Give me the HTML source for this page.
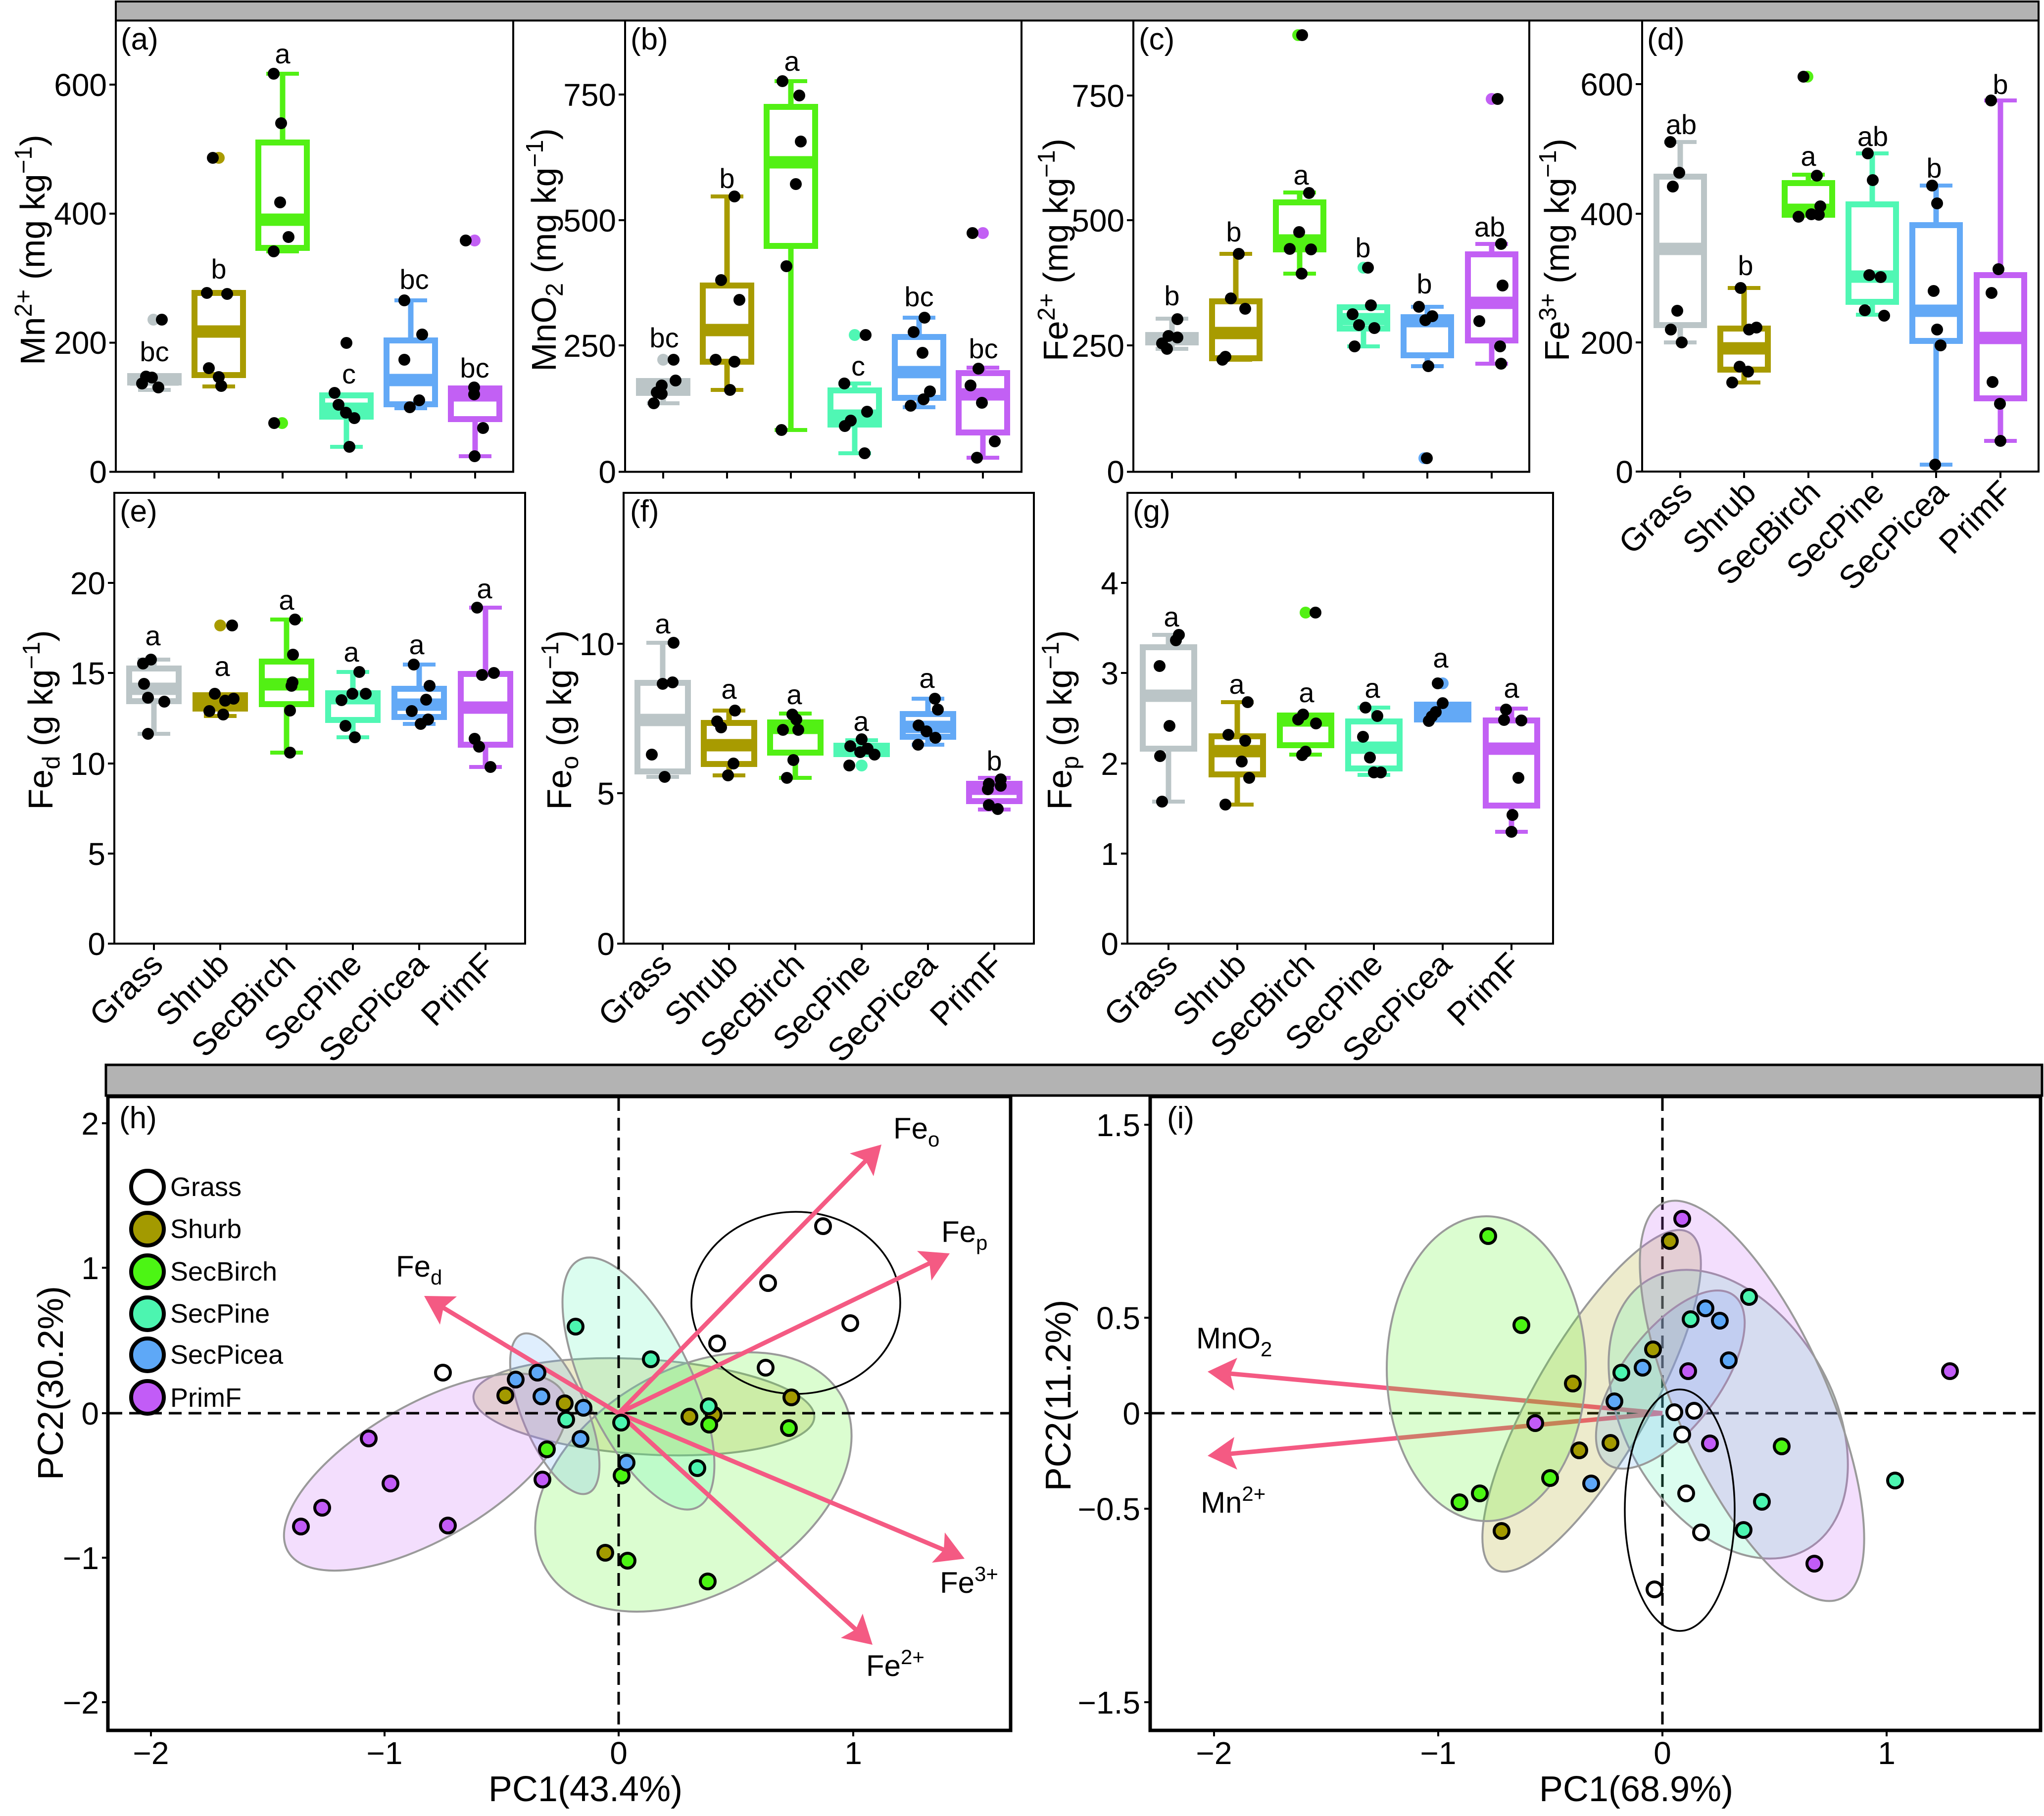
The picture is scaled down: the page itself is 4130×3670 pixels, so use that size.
<!DOCTYPE html>
<html><head><meta charset="utf-8"><style>
html,body{margin:0;padding:0;background:#fff}
svg{display:block}
text{font-family:"Liberation Sans",Arial,sans-serif;fill:#000}
.w{stroke-width:11}.c{stroke-width:8}.b{stroke-width:12;fill:#fff}.m{stroke-width:25}
.tk{font-size:64px}.tr{font-size:64px;text-anchor:end}.tm{font-size:64px;text-anchor:middle}
.lt{font-size:56px;text-anchor:middle}
.xl{font-size:66px;text-anchor:end}
.yt{font-size:70px;text-anchor:middle}
.tag{font-size:62px}
.ax{fill:none;stroke:#000;stroke-width:4}
.tick{stroke:#000;stroke-width:4}
.gr{stroke:#bbc5c7;fill:none}.sh{stroke:#a89b00;fill:none}.bi{stroke:#52f014;fill:none}.pi{stroke:#50f7b4;fill:none}.pc{stroke:#63a9f6;fill:none}.pf{stroke:#c260f4;fill:none}
.ell{stroke:#9a9a9a;stroke-width:4;fill-opacity:0.2}
.pt circle{stroke:#000;stroke-width:6}
.arr{stroke:#f45a83;stroke-width:9;fill:none}
.ah{fill:#f45a83}
.lab{font-size:60px}
</style></head><body>
<svg xmlns="http://www.w3.org/2000/svg" width="4130" height="3670" viewBox="0 0 4130 3670">
<rect width="4130" height="3670" fill="#fff"/>

<!-- ============ TOP STRIP ============ -->
<rect x="234" y="3" width="3885" height="38.5" fill="#b3b3b3" stroke="#000" stroke-width="4"/>

<!-- ============ PANEL A ============ -->
<g>
<rect class="ax" x="234" y="41.5" width="803" height="912"/>
<g class="tick">
<line x1="221" y1="953.5" x2="234" y2="953.5"/><line x1="221" y1="692.6" x2="234" y2="692.6"/><line x1="221" y1="431.8" x2="234" y2="431.8"/><line x1="221" y1="171" x2="234" y2="171"/>
<line x1="312" y1="953.5" x2="312" y2="967"/><line x1="442" y1="953.5" x2="442" y2="967"/><line x1="571" y1="953.5" x2="571" y2="967"/><line x1="700" y1="953.5" x2="700" y2="967"/><line x1="830" y1="953.5" x2="830" y2="967"/><line x1="960" y1="953.5" x2="960" y2="967"/>
</g>
<text class="tr" x="216" y="976">0</text><text class="tr" x="216" y="715">200</text><text class="tr" x="216" y="454">400</text><text class="tr" x="216" y="194">600</text>
<text class="yt" transform="translate(90,505) rotate(-90)">Mn<tspan font-size="49" dy="-26">2+</tspan><tspan dy="26"> (mg kg</tspan><tspan font-size="49" dy="-26">−1</tspan><tspan dy="26">)</tspan></text>
<text class="tag" x="244" y="100">(a)</text>
<g class="gr"><line class="w" x1="312" y1="773" x2="312" y2="788"/><line class="c" x1="279" y1="788" x2="345" y2="788"/><rect class="b" x="263" y="760" width="98" height="13"/><line class="m" x1="263" y1="767" x2="361" y2="767"/></g>
<g class="sh"><line class="w" x1="442" y1="758" x2="442" y2="781"/><line class="c" x1="409" y1="781" x2="475" y2="781"/><rect class="b" x="393" y="592" width="98" height="166"/><line class="m" x1="393" y1="670" x2="491" y2="670"/></g>
<g class="bi"><line class="w" x1="571" y1="149" x2="571" y2="508"/><line class="c" x1="538" y1="149" x2="604" y2="149"/><line class="c" x1="538" y1="508" x2="604" y2="508"/><rect class="b" x="522" y="288" width="98" height="213"/><line class="m" x1="522" y1="444" x2="620" y2="444"/></g>
<g class="pi"><line class="w" x1="700" y1="793" x2="700" y2="903"/><line class="c" x1="667" y1="903" x2="733" y2="903"/><rect class="b" x="651" y="799" width="98" height="43"/><line class="m" x1="651" y1="826" x2="749" y2="826"/></g>
<g class="pc"><line class="w" x1="830" y1="607" x2="830" y2="825"/><line class="c" x1="797" y1="607" x2="863" y2="607"/><line class="c" x1="797" y1="825" x2="863" y2="825"/><rect class="b" x="781" y="688" width="98" height="129"/><line class="m" x1="781" y1="768" x2="879" y2="768"/></g>
<g class="pf"><line class="w" x1="960" y1="779" x2="960" y2="922"/><line class="c" x1="927" y1="922" x2="993" y2="922"/><rect class="b" x="911" y="785" width="98" height="62"/><line class="m" x1="911" y1="799" x2="1009" y2="799"/></g>
<circle cx="310" cy="646" r="12" fill="#bbc5c7"/><circle cx="442" cy="319" r="12" fill="#a89b00"/><circle cx="570" cy="855" r="12" fill="#52f014"/><circle cx="959" cy="486" r="12" fill="#c260f4"/>
<g fill="#000">
<circle cx="287" cy="775" r="12"/><circle cx="295" cy="761" r="12"/><circle cx="307" cy="763" r="12"/><circle cx="320" cy="783" r="12"/><circle cx="327" cy="646" r="12"/>
<circle cx="418" cy="592" r="12"/><circle cx="459" cy="594" r="12"/><circle cx="422" cy="744" r="12"/><circle cx="442" cy="762" r="12"/><circle cx="447" cy="780" r="12"/><circle cx="430" cy="319" r="12"/>
<circle cx="553" cy="149" r="12"/><circle cx="568" cy="249" r="12"/><circle cx="566" cy="409" r="12"/><circle cx="583" cy="479" r="12"/><circle cx="553" cy="508" r="12"/><circle cx="554" cy="855" r="12"/>
<circle cx="700" cy="693" r="12"/><circle cx="676" cy="794" r="12"/><circle cx="684" cy="818" r="12"/><circle cx="699" cy="834" r="12"/><circle cx="716" cy="845" r="12"/><circle cx="706" cy="903" r="12"/>
<circle cx="817" cy="607" r="12"/><circle cx="853" cy="676" r="12"/><circle cx="817" cy="727" r="12"/><circle cx="847" cy="809" r="12"/><circle cx="828" cy="823" r="12"/>
<circle cx="958" cy="783" r="12"/><circle cx="958" cy="797" r="12"/><circle cx="976" cy="865" r="12"/><circle cx="959" cy="922" r="12"/><circle cx="941" cy="486" r="12"/>
</g>
<text class="lt" x="312" y="730">bc</text><text class="lt" x="442" y="563">b</text><text class="lt" x="571" y="128">a</text><text class="lt" x="705" y="775">c</text><text class="lt" x="837" y="584">bc</text><text class="lt" x="959" y="763">bc</text>
</g>

<!-- ============ PANEL B ============ -->
<g>
<rect class="ax" x="1263" y="41.5" width="801" height="912"/>
<g class="tick">
<line x1="1250" y1="953.5" x2="1263" y2="953.5"/><line x1="1250" y1="698" x2="1263" y2="698"/><line x1="1250" y1="445" x2="1263" y2="445"/><line x1="1250" y1="191" x2="1263" y2="191"/>
<line x1="1340" y1="953.5" x2="1340" y2="967"/><line x1="1469" y1="953.5" x2="1469" y2="967"/><line x1="1598" y1="953.5" x2="1598" y2="967"/><line x1="1727" y1="953.5" x2="1727" y2="967"/><line x1="1857" y1="953.5" x2="1857" y2="967"/><line x1="1986" y1="953.5" x2="1986" y2="967"/>
</g>
<text class="tr" x="1245" y="976">0</text><text class="tr" x="1245" y="721">250</text><text class="tr" x="1245" y="468">500</text><text class="tr" x="1245" y="214">750</text>
<text class="yt" transform="translate(1123,505) rotate(-90)">MnO<tspan font-size="49" dy="14">2</tspan><tspan dy="-14"> (mg kg</tspan><tspan font-size="49" dy="-26">−1</tspan><tspan dy="26">)</tspan></text>
<text class="tag" x="1274" y="100">(b)</text>
<g class="gr"><line class="w" x1="1340" y1="794" x2="1340" y2="815"/><line class="c" x1="1307" y1="815" x2="1373" y2="815"/><rect class="b" x="1291" y="770" width="98" height="24"/><line class="m" x1="1291" y1="782" x2="1389" y2="782"/></g>
<g class="sh"><line class="w" x1="1469" y1="397" x2="1469" y2="788"/><line class="c" x1="1436" y1="397" x2="1502" y2="397"/><line class="c" x1="1436" y1="788" x2="1502" y2="788"/><rect class="b" x="1420" y="577" width="98" height="154"/><line class="m" x1="1420" y1="667" x2="1518" y2="667"/></g>
<g class="bi"><line class="w" x1="1598" y1="164" x2="1598" y2="869"/><line class="c" x1="1565" y1="164" x2="1631" y2="164"/><line class="c" x1="1565" y1="869" x2="1631" y2="869"/><rect class="b" x="1549" y="216" width="98" height="281"/><line class="m" x1="1549" y1="328" x2="1647" y2="328"/></g>
<g class="pi"><line class="w" x1="1727" y1="775" x2="1727" y2="916"/><line class="c" x1="1694" y1="775" x2="1760" y2="775"/><line class="c" x1="1694" y1="916" x2="1760" y2="916"/><rect class="b" x="1678" y="789" width="98" height="69"/><line class="m" x1="1678" y1="840" x2="1776" y2="840"/></g>
<g class="pc"><line class="w" x1="1857" y1="642" x2="1857" y2="823"/><line class="c" x1="1824" y1="642" x2="1890" y2="642"/><line class="c" x1="1824" y1="823" x2="1890" y2="823"/><rect class="b" x="1808" y="681" width="98" height="123"/><line class="m" x1="1808" y1="752" x2="1906" y2="752"/></g>
<g class="pf"><line class="w" x1="1986" y1="743" x2="1986" y2="925"/><line class="c" x1="1953" y1="743" x2="2019" y2="743"/><line class="c" x1="1953" y1="925" x2="2019" y2="925"/><rect class="b" x="1937" y="754" width="98" height="120"/><line class="m" x1="1937" y1="797" x2="2035" y2="797"/></g>
<circle cx="1340" cy="727" r="12" fill="#bbc5c7"/><circle cx="1727" cy="677" r="12" fill="#50f7b4"/><circle cx="1986" cy="471" r="12" fill="#c260f4"/>
<g fill="#000">
<circle cx="1365" cy="769" r="12"/><circle cx="1337" cy="779" r="12"/><circle cx="1327" cy="793" r="12"/><circle cx="1337" cy="796" r="12"/><circle cx="1321" cy="815" r="12"/><circle cx="1361" cy="727" r="12"/>
<circle cx="1484" cy="397" r="12"/><circle cx="1457" cy="566" r="12"/><circle cx="1494" cy="606" r="12"/><circle cx="1446" cy="727" r="12"/><circle cx="1484" cy="731" r="12"/><circle cx="1475" cy="788" r="12"/>
<circle cx="1581" cy="164" r="12"/><circle cx="1615" cy="193" r="12"/><circle cx="1618" cy="286" r="12"/><circle cx="1608" cy="372" r="12"/><circle cx="1589" cy="538" r="12"/><circle cx="1579" cy="869" r="12"/>
<circle cx="1706" cy="775" r="12"/><circle cx="1752" cy="832" r="12"/><circle cx="1719" cy="850" r="12"/><circle cx="1707" cy="861" r="12"/><circle cx="1747" cy="916" r="12"/><circle cx="1749" cy="677" r="12"/>
<circle cx="1868" cy="642" r="12"/><circle cx="1846" cy="671" r="12"/><circle cx="1864" cy="713" r="12"/><circle cx="1879" cy="791" r="12"/><circle cx="1866" cy="807" r="12"/><circle cx="1840" cy="820" r="12"/>
<circle cx="1977" cy="745" r="12"/><circle cx="1961" cy="779" r="12"/><circle cx="1984" cy="814" r="12"/><circle cx="2010" cy="892" r="12"/><circle cx="1974" cy="925" r="12"/><circle cx="1965" cy="471" r="12"/>
</g>
<text class="lt" x="1342" y="702">bc</text><text class="lt" x="1469" y="380">b</text><text class="lt" x="1600" y="143">a</text><text class="lt" x="1734" y="759">c</text><text class="lt" x="1857" y="619">bc</text><text class="lt" x="1987" y="724">bc</text>
</g>

<!-- ============ PANEL C ============ -->
<g>
<rect class="ax" x="2290" y="41.5" width="800" height="912"/>
<g class="tick">
<line x1="2277" y1="953.5" x2="2290" y2="953.5"/><line x1="2277" y1="698" x2="2290" y2="698"/><line x1="2277" y1="445" x2="2290" y2="445"/><line x1="2277" y1="193" x2="2290" y2="193"/>
<line x1="2368" y1="953.5" x2="2368" y2="967"/><line x1="2497" y1="953.5" x2="2497" y2="967"/><line x1="2626" y1="953.5" x2="2626" y2="967"/><line x1="2755" y1="953.5" x2="2755" y2="967"/><line x1="2884" y1="953.5" x2="2884" y2="967"/><line x1="3014" y1="953.5" x2="3014" y2="967"/>
</g>
<text class="tr" x="2272" y="976">0</text><text class="tr" x="2272" y="721">250</text><text class="tr" x="2272" y="468">500</text><text class="tr" x="2272" y="216">750</text>
<text class="yt" transform="translate(2157,505) rotate(-90)">Fe<tspan font-size="49" dy="-26">2+</tspan><tspan dy="26"> (mg kg</tspan><tspan font-size="49" dy="-26">−1</tspan><tspan dy="26">)</tspan></text>
<text class="tag" x="2301" y="100">(c)</text>
<g class="gr"><line class="w" x1="2368" y1="644" x2="2368" y2="705"/><line class="c" x1="2335" y1="644" x2="2401" y2="644"/><line class="c" x1="2335" y1="705" x2="2401" y2="705"/><rect class="b" x="2320" y="677" width="96" height="15"/><line class="m" x1="2320" y1="684" x2="2416" y2="684"/></g>
<g class="sh"><line class="w" x1="2497" y1="513" x2="2497" y2="727"/><line class="c" x1="2464" y1="513" x2="2530" y2="513"/><line class="c" x1="2464" y1="727" x2="2530" y2="727"/><rect class="b" x="2449" y="609" width="96" height="115"/><line class="m" x1="2449" y1="673" x2="2545" y2="673"/></g>
<g class="bi"><line class="w" x1="2626" y1="389" x2="2626" y2="553"/><line class="c" x1="2593" y1="389" x2="2659" y2="389"/><line class="c" x1="2593" y1="553" x2="2659" y2="553"/><rect class="b" x="2578" y="409" width="96" height="95"/><line class="m" x1="2578" y1="486" x2="2674" y2="486"/></g>
<g class="pi"><line class="w" x1="2755" y1="615" x2="2755" y2="700"/><line class="c" x1="2722" y1="700" x2="2788" y2="700"/><rect class="b" x="2707" y="621" width="96" height="43"/><line class="m" x1="2707" y1="645" x2="2803" y2="645"/></g>
<g class="pc"><line class="w" x1="2884" y1="620" x2="2884" y2="740"/><line class="c" x1="2851" y1="620" x2="2917" y2="620"/><line class="c" x1="2851" y1="740" x2="2917" y2="740"/><rect class="b" x="2836" y="641" width="96" height="77"/><line class="m" x1="2836" y1="649" x2="2932" y2="649"/></g>
<g class="pf"><line class="w" x1="3014" y1="493" x2="3014" y2="735"/><line class="c" x1="2981" y1="493" x2="3047" y2="493"/><line class="c" x1="2981" y1="735" x2="3047" y2="735"/><rect class="b" x="2966" y="514" width="96" height="174"/><line class="m" x1="2966" y1="612" x2="3062" y2="612"/></g>
<circle cx="2623" cy="71" r="12" fill="#52f014"/><circle cx="2755" cy="541" r="12" fill="#50f7b4"/><circle cx="3014" cy="200" r="12" fill="#c260f4"/><circle cx="2878" cy="926" r="12" fill="#63a9f6"/>
<g fill="#000">
<circle cx="2379" cy="645" r="12"/><circle cx="2361" cy="679" r="12"/><circle cx="2379" cy="682" r="12"/><circle cx="2348" cy="694" r="12"/><circle cx="2358" cy="705" r="12"/>
<circle cx="2503" cy="513" r="12"/><circle cx="2487" cy="603" r="12"/><circle cx="2516" cy="624" r="12"/><circle cx="2476" cy="721" r="12"/><circle cx="2470" cy="727" r="12"/>
<circle cx="2645" cy="390" r="12"/><circle cx="2625" cy="469" r="12"/><circle cx="2606" cy="503" r="12"/><circle cx="2649" cy="504" r="12"/><circle cx="2630" cy="553" r="12"/><circle cx="2631" cy="71" r="12"/>
<circle cx="2770" cy="617" r="12"/><circle cx="2733" cy="635" r="12"/><circle cx="2746" cy="657" r="12"/><circle cx="2777" cy="663" r="12"/><circle cx="2737" cy="700" r="12"/><circle cx="2764" cy="541" r="12"/>
<circle cx="2867" cy="620" r="12"/><circle cx="2894" cy="639" r="12"/><circle cx="2880" cy="647" r="12"/><circle cx="2886" cy="740" r="12"/><circle cx="2883" cy="926" r="12"/>
<circle cx="3033" cy="493" r="12"/><circle cx="3036" cy="577" r="12"/><circle cx="2989" cy="649" r="12"/><circle cx="3031" cy="700" r="12"/><circle cx="3033" cy="735" r="12"/><circle cx="3026" cy="200" r="12"/>
</g>
<text class="lt" x="2368" y="617">b</text><text class="lt" x="2493" y="488">b</text><text class="lt" x="2629" y="373">a</text><text class="lt" x="2754" y="520">b</text><text class="lt" x="2878" y="593">b</text><text class="lt" x="3010" y="478">ab</text>
</g>

<!-- ============ PANEL D ============ -->
<g>
<rect class="ax" x="3318" y="41.5" width="801" height="911.5"/>
<g class="tick">
<line x1="3305" y1="953" x2="3318" y2="953"/><line x1="3305" y1="692" x2="3318" y2="692"/><line x1="3305" y1="432" x2="3318" y2="432"/><line x1="3305" y1="170" x2="3318" y2="170"/>
<line x1="3395" y1="953" x2="3395" y2="966"/><line x1="3524" y1="953" x2="3524" y2="966"/><line x1="3654" y1="953" x2="3654" y2="966"/><line x1="3783" y1="953" x2="3783" y2="966"/><line x1="3912" y1="953" x2="3912" y2="966"/><line x1="4042" y1="953" x2="4042" y2="966"/>
</g>
<text class="tr" x="3300" y="976">0</text><text class="tr" x="3300" y="715">200</text><text class="tr" x="3300" y="455">400</text><text class="tr" x="3300" y="193">600</text>
<text class="yt" transform="translate(3170,505) rotate(-90)">Fe<tspan font-size="49" dy="-26">3+</tspan><tspan dy="26"> (mg kg</tspan><tspan font-size="49" dy="-26">−1</tspan><tspan dy="26">)</tspan></text>
<text class="tag" x="3328" y="100">(d)</text>
<g class="gr"><line class="w" x1="3395" y1="287" x2="3395" y2="692"/><line class="c" x1="3362" y1="287" x2="3428" y2="287"/><line class="c" x1="3362" y1="692" x2="3428" y2="692"/><rect class="b" x="3347" y="357" width="96" height="300"/><line class="m" x1="3347" y1="503" x2="3443" y2="503"/></g>
<g class="sh"><line class="w" x1="3524" y1="582" x2="3524" y2="773"/><line class="c" x1="3491" y1="582" x2="3557" y2="582"/><line class="c" x1="3491" y1="773" x2="3557" y2="773"/><rect class="b" x="3476" y="664" width="96" height="83"/><line class="m" x1="3476" y1="704" x2="3572" y2="704"/></g>
<g class="bi"><line class="w" x1="3654" y1="353" x2="3654" y2="438"/><line class="c" x1="3621" y1="353" x2="3687" y2="353"/><rect class="b" x="3606" y="370" width="96" height="64"/><line class="m" x1="3606" y1="424" x2="3702" y2="424"/></g>
<g class="pi"><line class="w" x1="3783" y1="310" x2="3783" y2="636"/><line class="c" x1="3750" y1="310" x2="3816" y2="310"/><line class="c" x1="3750" y1="636" x2="3816" y2="636"/><rect class="b" x="3735" y="413" width="96" height="197"/><line class="m" x1="3735" y1="559" x2="3831" y2="559"/></g>
<g class="pc"><line class="w" x1="3912" y1="375" x2="3912" y2="939"/><line class="c" x1="3879" y1="375" x2="3945" y2="375"/><line class="c" x1="3879" y1="939" x2="3945" y2="939"/><rect class="b" x="3864" y="455" width="96" height="234"/><line class="m" x1="3864" y1="628" x2="3960" y2="628"/></g>
<g class="pf"><line class="w" x1="4042" y1="203" x2="4042" y2="891"/><line class="c" x1="4009" y1="203" x2="4075" y2="203"/><line class="c" x1="4009" y1="891" x2="4075" y2="891"/><rect class="b" x="3994" y="556" width="96" height="249"/><line class="m" x1="3994" y1="683" x2="4090" y2="683"/></g>
<circle cx="3652" cy="155" r="12" fill="#52f014"/>
<g fill="#000">
<circle cx="3375" cy="287" r="12"/><circle cx="3393" cy="349" r="12"/><circle cx="3380" cy="377" r="12"/><circle cx="3389" cy="628" r="12"/><circle cx="3376" cy="666" r="12"/><circle cx="3398" cy="692" r="12"/>
<circle cx="3517" cy="582" r="12"/><circle cx="3534" cy="666" r="12"/><circle cx="3549" cy="662" r="12"/><circle cx="3515" cy="741" r="12"/><circle cx="3532" cy="751" r="12"/><circle cx="3500" cy="773" r="12"/>
<circle cx="3671" cy="355" r="12"/><circle cx="3678" cy="417" r="12"/><circle cx="3660" cy="433" r="12"/><circle cx="3675" cy="434" r="12"/><circle cx="3634" cy="438" r="12"/><circle cx="3644" cy="155" r="12"/>
<circle cx="3774" cy="310" r="12"/><circle cx="3784" cy="364" r="12"/><circle cx="3777" cy="556" r="12"/><circle cx="3800" cy="560" r="12"/><circle cx="3768" cy="627" r="12"/><circle cx="3807" cy="638" r="12"/>
<circle cx="3904" cy="375" r="12"/><circle cx="3914" cy="411" r="12"/><circle cx="3907" cy="588" r="12"/><circle cx="3914" cy="666" r="12"/><circle cx="3921" cy="698" r="12"/><circle cx="3910" cy="939" r="12"/>
<circle cx="4023" cy="203" r="12"/><circle cx="4038" cy="544" r="12"/><circle cx="4024" cy="592" r="12"/><circle cx="4026" cy="772" r="12"/><circle cx="4041" cy="816" r="12"/><circle cx="4042" cy="891" r="12"/>
</g>
<text class="lt" x="3397" y="271">ab</text><text class="lt" x="3527" y="556">b</text><text class="lt" x="3654" y="335">a</text><text class="lt" x="3784" y="295">ab</text><text class="lt" x="3908" y="359">b</text><text class="lt" x="4042" y="190">b</text>
<text class="xl" transform="translate(3423,999) rotate(-45)">Grass</text>
<text class="xl" transform="translate(3552,999) rotate(-45)">Shrub</text>
<text class="xl" transform="translate(3682,999) rotate(-45)">SecBirch</text>
<text class="xl" transform="translate(3811,999) rotate(-45)">SecPine</text>
<text class="xl" transform="translate(3940,999) rotate(-45)">SecPicea</text>
<text class="xl" transform="translate(4070,999) rotate(-45)">PrimF</text>
</g>

<!-- ============ PANEL E ============ -->
<g>
<rect class="ax" x="231" y="996" width="830" height="911"/>
<g class="tick">
<line x1="218" y1="1907" x2="231" y2="1907"/><line x1="218" y1="1725" x2="231" y2="1725"/><line x1="218" y1="1543" x2="231" y2="1543"/><line x1="218" y1="1360" x2="231" y2="1360"/><line x1="218" y1="1178" x2="231" y2="1178"/>
<line x1="311" y1="1907" x2="311" y2="1920"/><line x1="445" y1="1907" x2="445" y2="1920"/><line x1="579" y1="1907" x2="579" y2="1920"/><line x1="713" y1="1907" x2="713" y2="1920"/><line x1="847" y1="1907" x2="847" y2="1920"/><line x1="981" y1="1907" x2="981" y2="1920"/>
</g>
<text class="tr" x="213" y="1930">0</text><text class="tr" x="213" y="1748">5</text><text class="tr" x="213" y="1566">10</text><text class="tr" x="213" y="1383">15</text><text class="tr" x="213" y="1201">20</text>
<text class="yt" transform="translate(106,1455) rotate(-90)">Fe<tspan font-size="49" dy="14">d</tspan><tspan dy="-14"> (g kg</tspan><tspan font-size="49" dy="-26">−1</tspan><tspan dy="26">)</tspan></text>
<text class="tag" x="242" y="1054">(e)</text>
<g class="gr"><line class="w" x1="311" y1="1333" x2="311" y2="1483"/><line class="c" x1="278" y1="1333" x2="344" y2="1333"/><line class="c" x1="278" y1="1483" x2="344" y2="1483"/><rect class="b" x="261" y="1351" width="100" height="66"/><line class="m" x1="261" y1="1392" x2="361" y2="1392"/></g>
<g class="sh"><line class="w" x1="445" y1="1432" x2="445" y2="1447"/><line class="c" x1="412" y1="1447" x2="478" y2="1447"/><rect class="b" x="395" y="1405" width="100" height="27"/><line class="m" x1="395" y1="1418" x2="495" y2="1418"/></g>
<g class="bi"><line class="w" x1="579" y1="1252" x2="579" y2="1521"/><line class="c" x1="546" y1="1252" x2="612" y2="1252"/><line class="c" x1="546" y1="1521" x2="612" y2="1521"/><rect class="b" x="529" y="1337" width="100" height="86"/><line class="m" x1="529" y1="1383" x2="629" y2="1383"/></g>
<g class="pi"><line class="w" x1="713" y1="1358" x2="713" y2="1490"/><line class="c" x1="680" y1="1358" x2="746" y2="1358"/><line class="c" x1="680" y1="1490" x2="746" y2="1490"/><rect class="b" x="663" y="1401" width="100" height="54"/><line class="m" x1="663" y1="1411" x2="763" y2="1411"/></g>
<g class="pc"><line class="w" x1="847" y1="1343" x2="847" y2="1463"/><line class="c" x1="814" y1="1343" x2="880" y2="1343"/><line class="c" x1="814" y1="1463" x2="880" y2="1463"/><rect class="b" x="797" y="1392" width="100" height="57"/><line class="m" x1="797" y1="1424" x2="897" y2="1424"/></g>
<g class="pf"><line class="w" x1="981" y1="1228" x2="981" y2="1550"/><line class="c" x1="948" y1="1228" x2="1014" y2="1228"/><line class="c" x1="948" y1="1550" x2="1014" y2="1550"/><rect class="b" x="931" y="1362" width="100" height="143"/><line class="m" x1="931" y1="1430" x2="1031" y2="1430"/></g>
<circle cx="445" cy="1264" r="12" fill="#a89b00"/>
<g fill="#000">
<circle cx="289" cy="1341" r="12"/><circle cx="305" cy="1333" r="12"/><circle cx="291" cy="1382" r="12"/><circle cx="299" cy="1410" r="12"/><circle cx="332" cy="1418" r="12"/><circle cx="299" cy="1483" r="12"/>
<circle cx="434" cy="1402" r="12"/><circle cx="455" cy="1416" r="12"/><circle cx="472" cy="1412" r="12"/><circle cx="423" cy="1437" r="12"/><circle cx="451" cy="1444" r="12"/><circle cx="469" cy="1264" r="12"/>
<circle cx="596" cy="1252" r="12"/><circle cx="592" cy="1323" r="12"/><circle cx="591" cy="1379" r="12"/><circle cx="589" cy="1386" r="12"/><circle cx="586" cy="1436" r="12"/><circle cx="586" cy="1521" r="12"/>
<circle cx="726" cy="1358" r="12"/><circle cx="690" cy="1415" r="12"/><circle cx="712" cy="1402" r="12"/><circle cx="739" cy="1402" r="12"/><circle cx="698" cy="1467" r="12"/><circle cx="717" cy="1490" r="12"/>
<circle cx="836" cy="1343" r="12"/><circle cx="868" cy="1386" r="12"/><circle cx="861" cy="1414" r="12"/><circle cx="832" cy="1437" r="12"/><circle cx="865" cy="1454" r="12"/><circle cx="850" cy="1463" r="12"/>
<circle cx="964" cy="1228" r="12"/><circle cx="974" cy="1364" r="12"/><circle cx="998" cy="1360" r="12"/><circle cx="959" cy="1493" r="12"/><circle cx="968" cy="1509" r="12"/><circle cx="991" cy="1550" r="12"/>
</g>
<text class="lt" x="309" y="1304">a</text><text class="lt" x="449" y="1366">a</text><text class="lt" x="579" y="1232">a</text><text class="lt" x="710" y="1337">a</text><text class="lt" x="842" y="1322">a</text><text class="lt" x="979" y="1209">a</text>
<text class="xl" transform="translate(333,1953) rotate(-45)">Grass</text>
<text class="xl" transform="translate(467,1953) rotate(-45)">Shrub</text>
<text class="xl" transform="translate(601,1953) rotate(-45)">SecBirch</text>
<text class="xl" transform="translate(735,1953) rotate(-45)">SecPine</text>
<text class="xl" transform="translate(869,1953) rotate(-45)">SecPicea</text>
<text class="xl" transform="translate(1003,1953) rotate(-45)">PrimF</text>
</g>

<!-- ============ PANEL F ============ -->
<g>
<rect class="ax" x="1260" y="996" width="829" height="911"/>
<g class="tick">
<line x1="1247" y1="1907" x2="1260" y2="1907"/><line x1="1247" y1="1603" x2="1260" y2="1603"/><line x1="1247" y1="1301" x2="1260" y2="1301"/>
<line x1="1339" y1="1907" x2="1339" y2="1920"/><line x1="1473" y1="1907" x2="1473" y2="1920"/><line x1="1607" y1="1907" x2="1607" y2="1920"/><line x1="1741" y1="1907" x2="1741" y2="1920"/><line x1="1875" y1="1907" x2="1875" y2="1920"/><line x1="2009" y1="1907" x2="2009" y2="1920"/>
</g>
<text class="tr" x="1242" y="1930">0</text><text class="tr" x="1242" y="1626">5</text><text class="tr" x="1242" y="1324">10</text>
<text class="yt" transform="translate(1154,1455) rotate(-90)">Fe<tspan font-size="49" dy="14">o</tspan><tspan dy="-14"> (g kg</tspan><tspan font-size="49" dy="-26">−1</tspan><tspan dy="26">)</tspan></text>
<text class="tag" x="1273" y="1054">(f)</text>
<g class="gr"><line class="w" x1="1339" y1="1299" x2="1339" y2="1570"/><line class="c" x1="1306" y1="1299" x2="1372" y2="1299"/><line class="c" x1="1306" y1="1570" x2="1372" y2="1570"/><rect class="b" x="1288" y="1380" width="102" height="179"/><line class="m" x1="1288" y1="1455" x2="1390" y2="1455"/></g>
<g class="sh"><line class="w" x1="1473" y1="1436" x2="1473" y2="1567"/><line class="c" x1="1440" y1="1436" x2="1506" y2="1436"/><line class="c" x1="1440" y1="1567" x2="1506" y2="1567"/><rect class="b" x="1422" y="1461" width="102" height="83"/><line class="m" x1="1422" y1="1506" x2="1524" y2="1506"/></g>
<g class="bi"><line class="w" x1="1607" y1="1442" x2="1607" y2="1572"/><line class="c" x1="1574" y1="1442" x2="1640" y2="1442"/><line class="c" x1="1574" y1="1572" x2="1640" y2="1572"/><rect class="b" x="1556" y="1460" width="102" height="61"/><line class="m" x1="1556" y1="1471" x2="1658" y2="1471"/></g>
<g class="pi"><line class="w" x1="1741" y1="1496" x2="1741" y2="1524"/><line class="c" x1="1708" y1="1496" x2="1774" y2="1496"/><rect class="b" x="1690" y="1507" width="102" height="17"/><line class="m" x1="1690" y1="1515" x2="1792" y2="1515"/></g>
<g class="pc"><line class="w" x1="1875" y1="1412" x2="1875" y2="1505"/><line class="c" x1="1842" y1="1412" x2="1908" y2="1412"/><line class="c" x1="1842" y1="1505" x2="1908" y2="1505"/><rect class="b" x="1824" y="1443" width="102" height="46"/><line class="m" x1="1824" y1="1469" x2="1926" y2="1469"/></g>
<g class="pf"><line class="w" x1="2009" y1="1572" x2="2009" y2="1636"/><line class="c" x1="1976" y1="1572" x2="2042" y2="1572"/><line class="c" x1="1976" y1="1636" x2="2042" y2="1636"/><rect class="b" x="1958" y="1584" width="102" height="35"/><line class="m" x1="1958" y1="1594" x2="2060" y2="1594"/></g>
<circle cx="1741" cy="1547" r="12" fill="#50f7b4"/>
<g fill="#000">
<circle cx="1361" cy="1299" r="12"/><circle cx="1339" cy="1382" r="12"/><circle cx="1359" cy="1379" r="12"/><circle cx="1317" cy="1525" r="12"/><circle cx="1343" cy="1570" r="12"/>
<circle cx="1485" cy="1436" r="12"/><circle cx="1449" cy="1458" r="12"/><circle cx="1457" cy="1470" r="12"/><circle cx="1482" cy="1543" r="12"/><circle cx="1471" cy="1567" r="12"/>
<circle cx="1601" cy="1444" r="12"/><circle cx="1609" cy="1454" r="12"/><circle cx="1582" cy="1475" r="12"/><circle cx="1613" cy="1475" r="12"/><circle cx="1603" cy="1536" r="12"/><circle cx="1590" cy="1572" r="12"/>
<circle cx="1718" cy="1508" r="12"/><circle cx="1741" cy="1494" r="12"/><circle cx="1738" cy="1520" r="12"/><circle cx="1753" cy="1513" r="12"/><circle cx="1767" cy="1525" r="12"/><circle cx="1716" cy="1547" r="12"/>
<circle cx="1889" cy="1412" r="12"/><circle cx="1895" cy="1434" r="12"/><circle cx="1856" cy="1466" r="12"/><circle cx="1872" cy="1478" r="12"/><circle cx="1890" cy="1491" r="12"/><circle cx="1855" cy="1505" r="12"/>
<circle cx="1998" cy="1584" r="12"/><circle cx="2022" cy="1575" r="12"/><circle cx="2022" cy="1588" r="12"/><circle cx="1996" cy="1595" r="12"/><circle cx="1998" cy="1627" r="12"/><circle cx="2016" cy="1635" r="12"/>
</g>
<text class="lt" x="1339" y="1280">a</text><text class="lt" x="1473" y="1412">a</text><text class="lt" x="1605" y="1423">a</text><text class="lt" x="1740" y="1477">a</text><text class="lt" x="1873" y="1390">a</text><text class="lt" x="2009" y="1557">b</text>
<text class="xl" transform="translate(1361,1953) rotate(-45)">Grass</text>
<text class="xl" transform="translate(1495,1953) rotate(-45)">Shrub</text>
<text class="xl" transform="translate(1629,1953) rotate(-45)">SecBirch</text>
<text class="xl" transform="translate(1763,1953) rotate(-45)">SecPine</text>
<text class="xl" transform="translate(1897,1953) rotate(-45)">SecPicea</text>
<text class="xl" transform="translate(2031,1953) rotate(-45)">PrimF</text>
</g>

<!-- ============ PANEL G ============ -->
<g>
<rect class="ax" x="2278" y="996" width="860" height="911"/>
<g class="tick">
<line x1="2265" y1="1907" x2="2278" y2="1907"/><line x1="2265" y1="1725" x2="2278" y2="1725"/><line x1="2265" y1="1543" x2="2278" y2="1543"/><line x1="2265" y1="1360" x2="2278" y2="1360"/><line x1="2265" y1="1178" x2="2278" y2="1178"/>
<line x1="2361" y1="1907" x2="2361" y2="1920"/><line x1="2500" y1="1907" x2="2500" y2="1920"/><line x1="2638" y1="1907" x2="2638" y2="1920"/><line x1="2776" y1="1907" x2="2776" y2="1920"/><line x1="2915" y1="1907" x2="2915" y2="1920"/><line x1="3054" y1="1907" x2="3054" y2="1920"/>
</g>
<text class="tr" x="2260" y="1930">0</text><text class="tr" x="2260" y="1748">1</text><text class="tr" x="2260" y="1566">2</text><text class="tr" x="2260" y="1383">3</text><text class="tr" x="2260" y="1201">4</text>
<text class="yt" transform="translate(2165,1455) rotate(-90)">Fe<tspan font-size="49" dy="14">p</tspan><tspan dy="-14"> (g kg</tspan><tspan font-size="49" dy="-26">−1</tspan><tspan dy="26">)</tspan></text>
<text class="tag" x="2289" y="1054">(g)</text>
<g class="gr"><line class="w" x1="2361" y1="1283" x2="2361" y2="1620"/><line class="c" x1="2328" y1="1283" x2="2394" y2="1283"/><line class="c" x1="2328" y1="1620" x2="2394" y2="1620"/><rect class="b" x="2309" y="1308" width="104" height="205"/><line class="m" x1="2309" y1="1406" x2="2413" y2="1406"/></g>
<g class="sh"><line class="w" x1="2500" y1="1419" x2="2500" y2="1626"/><line class="c" x1="2467" y1="1419" x2="2533" y2="1419"/><line class="c" x1="2467" y1="1626" x2="2533" y2="1626"/><rect class="b" x="2448" y="1488" width="104" height="77"/><line class="m" x1="2448" y1="1518" x2="2552" y2="1518"/></g>
<g class="bi"><line class="w" x1="2638" y1="1440" x2="2638" y2="1525"/><line class="c" x1="2605" y1="1525" x2="2671" y2="1525"/><rect class="b" x="2586" y="1446" width="104" height="60"/><line class="m" x1="2586" y1="1456" x2="2690" y2="1456"/></g>
<g class="pi"><line class="w" x1="2776" y1="1430" x2="2776" y2="1566"/><line class="c" x1="2743" y1="1430" x2="2809" y2="1430"/><line class="c" x1="2743" y1="1566" x2="2809" y2="1566"/><rect class="b" x="2724" y="1458" width="104" height="95"/><line class="m" x1="2724" y1="1511" x2="2828" y2="1511"/></g>
<g class="pc"><rect class="b" x="2863" y="1424" width="104" height="30"/><line class="m" x1="2863" y1="1439" x2="2967" y2="1439"/></g>
<g class="pf"><line class="w" x1="3054" y1="1432" x2="3054" y2="1681"/><line class="c" x1="3021" y1="1432" x2="3087" y2="1432"/><line class="c" x1="3021" y1="1681" x2="3087" y2="1681"/><rect class="b" x="3002" y="1456" width="104" height="172"/><line class="m" x1="3002" y1="1513" x2="3106" y2="1513"/></g>
<circle cx="2638" cy="1238" r="12" fill="#52f014"/><circle cx="2915" cy="1381" r="12" fill="#63a9f6"/>
<g fill="#000">
<circle cx="2382" cy="1283" r="12"/><circle cx="2376" cy="1294" r="12"/><circle cx="2343" cy="1346" r="12"/><circle cx="2363" cy="1467" r="12"/><circle cx="2344" cy="1528" r="12"/><circle cx="2348" cy="1620" r="12"/>
<circle cx="2521" cy="1419" r="12"/><circle cx="2482" cy="1485" r="12"/><circle cx="2516" cy="1497" r="12"/><circle cx="2509" cy="1539" r="12"/><circle cx="2524" cy="1572" r="12"/><circle cx="2476" cy="1626" r="12"/>
<circle cx="2633" cy="1444" r="12"/><circle cx="2623" cy="1454" r="12"/><circle cx="2659" cy="1462" r="12"/><circle cx="2638" cy="1519" r="12"/><circle cx="2631" cy="1526" r="12"/><circle cx="2658" cy="1238" r="12"/>
<circle cx="2759" cy="1430" r="12"/><circle cx="2783" cy="1447" r="12"/><circle cx="2754" cy="1489" r="12"/><circle cx="2768" cy="1531" r="12"/><circle cx="2776" cy="1561" r="12"/><circle cx="2790" cy="1561" r="12"/>
<circle cx="2915" cy="1421" r="12"/><circle cx="2901" cy="1439" r="12"/><circle cx="2893" cy="1448" r="12"/><circle cx="2887" cy="1457" r="12"/><circle cx="2905" cy="1381" r="12"/>
<circle cx="3043" cy="1434" r="12"/><circle cx="3039" cy="1455" r="12"/><circle cx="3074" cy="1456" r="12"/><circle cx="3068" cy="1572" r="12"/><circle cx="3056" cy="1647" r="12"/><circle cx="3054" cy="1681" r="12"/>
</g>
<text class="lt" x="2367" y="1266">a</text><text class="lt" x="2499" y="1402">a</text><text class="lt" x="2640" y="1419">a</text><text class="lt" x="2773" y="1410">a</text><text class="lt" x="2911" y="1349">a</text><text class="lt" x="3054" y="1410">a</text>
<text class="xl" transform="translate(2383,1953) rotate(-45)">Grass</text>
<text class="xl" transform="translate(2522,1953) rotate(-45)">Shrub</text>
<text class="xl" transform="translate(2660,1953) rotate(-45)">SecBirch</text>
<text class="xl" transform="translate(2798,1953) rotate(-45)">SecPine</text>
<text class="xl" transform="translate(2937,1953) rotate(-45)">SecPicea</text>
<text class="xl" transform="translate(3076,1953) rotate(-45)">PrimF</text>
</g>

<!-- ============ BOTTOM STRIP ============ -->
<rect x="214" y="2152" width="3912" height="62" fill="#b3b3b3" stroke="#000" stroke-width="5"/>

<!-- ============ PANEL H ============ -->
<g>
<rect x="218" y="2216" width="1824" height="1281" fill="#fff" stroke="none"/>
<ellipse class="ell" cx="1301" cy="2843" rx="345" ry="96" transform="rotate(3.6 1301 2843)" fill="#a39a00"/>
<ellipse class="ell" cx="1401" cy="2995" rx="346" ry="226" transform="rotate(-30.4 1401 2995)" fill="#4cf514"/>
<ellipse class="ell" cx="1290" cy="2796" rx="108" ry="277" transform="rotate(-25.3 1290 2796)" fill="#4cf5b0"/>
<ellipse class="ell" cx="1121" cy="2857" rx="65" ry="174" transform="rotate(-22.8 1121 2857)" fill="#5ea8f7"/>
<ellipse class="ell" cx="860" cy="2975" rx="321" ry="136" transform="rotate(-30 860 2975)" fill="#c25cf7"/>
<ellipse cx="1608" cy="2633" rx="211" ry="184" fill="none" stroke="#000" stroke-width="3.5"/>
<g stroke="#000" stroke-width="5" stroke-dasharray="26 14">
<line x1="1250" y1="2219" x2="1250" y2="3494"/><line x1="221" y1="2856" x2="2039" y2="2856"/>
</g>
<g class="arr">
<line x1="1250" y1="2856" x2="1749" y2="2346"/><line x1="1250" y1="2856" x2="1878" y2="2553"/><line x1="1250" y1="2856" x2="896" y2="2643"/><line x1="1250" y1="2856" x2="1907" y2="3132"/><line x1="1250" y1="2856" x2="1729" y2="3293"/>
</g>
<g class="ah">
<polygon points="1781,2313 1717,2331 1749,2346 1765,2377"/>
<polygon points="1919,2533 1853,2528 1878,2553 1882,2588"/>
<polygon points="857,2619 889,2677 896,2643 923,2620"/>
<polygon points="1949,3150 1909,3097 1907,3132 1883,3158"/>
<polygon points="1763,3324 1743,3261 1729,3293 1699,3310"/>
</g>
<text class="lab" x="1805" y="2301">Fe<tspan font-size="42" dy="16">o</tspan></text>
<text class="lab" x="1902" y="2510">Fe<tspan font-size="42" dy="16">p</tspan></text>
<text class="lab" x="800" y="2580">Fe<tspan font-size="42" dy="16">d</tspan></text>
<text class="lab" x="1899" y="3219">Fe<tspan font-size="42" dy="-24">3+</tspan></text>
<text class="lab" x="1750" y="3387">Fe<tspan font-size="42" dy="-24">2+</tspan></text>
<g class="pt">
<g fill="#fff"><circle cx="895" cy="2774" r="15"/><circle cx="1663" cy="2478" r="15"/><circle cx="1552" cy="2593" r="15"/><circle cx="1718" cy="2674" r="15"/><circle cx="1449" cy="2715" r="15"/><circle cx="1547" cy="2764" r="15"/></g>
<g fill="#a39a00"><circle cx="1021" cy="2820" r="15"/><circle cx="1141" cy="2836" r="15"/><circle cx="1393" cy="2863" r="15"/><circle cx="1442" cy="2859" r="15"/><circle cx="1599" cy="2824" r="15"/><circle cx="1223" cy="3138" r="15"/></g>
<g fill="#4cf514"><circle cx="1105" cy="2929" r="15"/><circle cx="1256" cy="2982" r="15"/><circle cx="1433" cy="2879" r="15"/><circle cx="1594" cy="2886" r="15"/><circle cx="1268" cy="3154" r="15"/><circle cx="1430" cy="3196" r="15"/></g>
<g fill="#4cf5b0"><circle cx="1163" cy="2681" r="15"/><circle cx="1315" cy="2747" r="15"/><circle cx="1144" cy="2869" r="15"/><circle cx="1255" cy="2875" r="15"/><circle cx="1432" cy="2842" r="15"/><circle cx="1409" cy="2967" r="15"/></g>
<g fill="#5ea8f7"><circle cx="1042" cy="2788" r="15"/><circle cx="1086" cy="2774" r="15"/><circle cx="1094" cy="2822" r="15"/><circle cx="1179" cy="2845" r="15"/><circle cx="1173" cy="2908" r="15"/><circle cx="1266" cy="2956" r="15"/></g>
<g fill="#c25cf7"><circle cx="745" cy="2907" r="15"/><circle cx="789" cy="2998" r="15"/><circle cx="651" cy="3047" r="15"/><circle cx="608" cy="3085" r="15"/><circle cx="905" cy="3083" r="15"/><circle cx="1096" cy="2990" r="15"/></g>
</g>
<g stroke="#000" stroke-width="8">
<circle cx="298" cy="2399" r="33" fill="#fff"/><circle cx="298" cy="2484" r="33" fill="#a39a00"/><circle cx="298" cy="2570" r="33" fill="#4cf514"/><circle cx="298" cy="2655" r="33" fill="#4cf5b0"/><circle cx="298" cy="2738" r="33" fill="#5ea8f7"/><circle cx="298" cy="2824" r="33" fill="#c25cf7"/>
</g>
<g font-size="54">
<text x="344" y="2417">Grass</text><text x="344" y="2502">Shurb</text><text x="344" y="2588">SecBirch</text><text x="344" y="2673">SecPine</text><text x="344" y="2756">SecPicea</text><text x="344" y="2843">PrimF</text>
</g>
<rect x="218" y="2216" width="1824" height="1281" fill="none" stroke="#000" stroke-width="7"/>
<g class="tick">
<line x1="206" y1="2270" x2="218" y2="2270"/><line x1="206" y1="2562" x2="218" y2="2562"/><line x1="206" y1="2856" x2="218" y2="2856"/><line x1="206" y1="3148" x2="218" y2="3148"/><line x1="206" y1="3440" x2="218" y2="3440"/>
<line x1="305" y1="3497" x2="305" y2="3509"/><line x1="777" y1="3497" x2="777" y2="3509"/><line x1="1250" y1="3497" x2="1250" y2="3509"/><line x1="1724" y1="3497" x2="1724" y2="3509"/>
</g>
<text class="tr" x="200" y="2293">2</text><text class="tr" x="200" y="2585">1</text><text class="tr" x="200" y="2879">0</text><text class="tr" x="200" y="3171">−1</text><text class="tr" x="200" y="3463">−2</text>
<text class="tm" x="305" y="3565">−2</text><text class="tm" x="777" y="3565">−1</text><text class="tm" x="1250" y="3565">0</text><text class="tm" x="1724" y="3565">1</text>
<text x="1183" y="3640" font-size="72" text-anchor="middle">PC1(43.4%)</text>
<text font-size="72" text-anchor="middle" transform="translate(127,2795) rotate(-90)">PC2(30.2%)</text>
<text class="tag" x="241" y="2280">(h)</text>
</g>

<!-- ============ PANEL I ============ -->
<g>
<g stroke="#000" stroke-width="5" stroke-dasharray="26 14">
<line x1="3359" y1="2219" x2="3359" y2="3494"/><line x1="2327" y1="2856" x2="4120" y2="2856"/>
</g>
<g class="arr">
<line x1="3359" y1="2856" x2="2486" y2="2776"/><line x1="3359" y1="2856" x2="2486" y2="2938"/>
</g>
<g class="ah">
<polygon points="2440,2772 2494,2810 2486,2776 2500,2744"/>
<polygon points="2440,2942 2500,2970 2486,2938 2494,2904"/>
</g>
<ellipse class="ell" cx="3216" cy="2831" rx="393" ry="116" transform="rotate(-60 3216 2831)" fill="#a39a00"/>
<ellipse class="ell" cx="3003" cy="2766" rx="201" ry="308" fill="#4cf514"/>
<ellipse class="ell" cx="3492" cy="2858" rx="209" ry="316" transform="rotate(-30.8 3492 2858)" fill="#4cf5b0"/>
<ellipse class="ell" cx="3375" cy="2788" rx="213" ry="98" transform="rotate(-53 3375 2788)" fill="#5ea8f7"/>
<ellipse class="ell" cx="3540" cy="2831" rx="152" ry="438" transform="rotate(-24.15 3540 2831)" fill="#c25cf7"/>
<ellipse cx="3394" cy="3052" rx="111" ry="244" fill="none" stroke="#000" stroke-width="3.5"/>
<text class="lab" x="2417" y="2725" font-size="62">MnO<tspan font-size="42" dy="16">2</tspan></text>
<text class="lab" x="2426" y="3057" font-size="62">Mn<tspan font-size="42" dy="-24">2+</tspan></text>
<g class="pt">
<g fill="#fff"><circle cx="3383" cy="2854" r="15"/><circle cx="3423" cy="2851" r="15"/><circle cx="3399" cy="2899" r="15"/><circle cx="3407" cy="3018" r="15"/><circle cx="3437" cy="3097" r="15"/><circle cx="3343" cy="3212" r="15"/></g>
<g fill="#a39a00"><circle cx="3374" cy="2508" r="15"/><circle cx="3340" cy="2727" r="15"/><circle cx="3178" cy="2796" r="15"/><circle cx="3254" cy="2916" r="15"/><circle cx="3191" cy="2931" r="15"/><circle cx="3034" cy="3094" r="15"/></g>
<g fill="#4cf514"><circle cx="3007" cy="2498" r="15"/><circle cx="3074" cy="2678" r="15"/><circle cx="3132" cy="2987" r="15"/><circle cx="2990" cy="3018" r="15"/><circle cx="2949" cy="3036" r="15"/><circle cx="3600" cy="2923" r="15"/></g>
<g fill="#4cf5b0"><circle cx="3534" cy="2621" r="15"/><circle cx="3416" cy="2666" r="15"/><circle cx="3276" cy="2774" r="15"/><circle cx="3829" cy="2992" r="15"/><circle cx="3560" cy="3035" r="15"/><circle cx="3523" cy="3092" r="15"/></g>
<g fill="#5ea8f7"><circle cx="3446" cy="2644" r="15"/><circle cx="3475" cy="2669" r="15"/><circle cx="3493" cy="2749" r="15"/><circle cx="3319" cy="2764" r="15"/><circle cx="3262" cy="2832" r="15"/><circle cx="3215" cy="2998" r="15"/></g>
<g fill="#c25cf7"><circle cx="3399" cy="2463" r="15"/><circle cx="3411" cy="2771" r="15"/><circle cx="3455" cy="2917" r="15"/><circle cx="3102" cy="2876" r="15"/><circle cx="3666" cy="3160" r="15"/><circle cx="3940" cy="2771" r="15"/></g>
</g>
<rect x="2324" y="2216" width="1799" height="1281" fill="none" stroke="#000" stroke-width="7"/>
<g class="tick">
<line x1="2312" y1="2273" x2="2324" y2="2273"/><line x1="2312" y1="2663" x2="2324" y2="2663"/><line x1="2312" y1="2856" x2="2324" y2="2856"/><line x1="2312" y1="3049" x2="2324" y2="3049"/><line x1="2312" y1="3440" x2="2324" y2="3440"/>
<line x1="2453" y1="3497" x2="2453" y2="3509"/><line x1="2906" y1="3497" x2="2906" y2="3509"/><line x1="3359" y1="3497" x2="3359" y2="3509"/><line x1="3812" y1="3497" x2="3812" y2="3509"/>
</g>
<text class="tr" x="2304" y="2296">1.5</text><text class="tr" x="2304" y="2686">0.5</text><text class="tr" x="2304" y="2879">0</text><text class="tr" x="2304" y="3072">−0.5</text><text class="tr" x="2304" y="3463">−1.5</text>
<text class="tm" x="2453" y="3565">−2</text><text class="tm" x="2906" y="3565">−1</text><text class="tm" x="3359" y="3565">0</text><text class="tm" x="3812" y="3565">1</text>
<text x="3306" y="3640" font-size="72" text-anchor="middle">PC1(68.9%)</text>
<text font-size="72" text-anchor="middle" transform="translate(2163,2820) rotate(-90)">PC2(11.2%)</text>
<text class="tag" x="2358" y="2280">(i)</text>
</g>
</svg>
</body></html>
